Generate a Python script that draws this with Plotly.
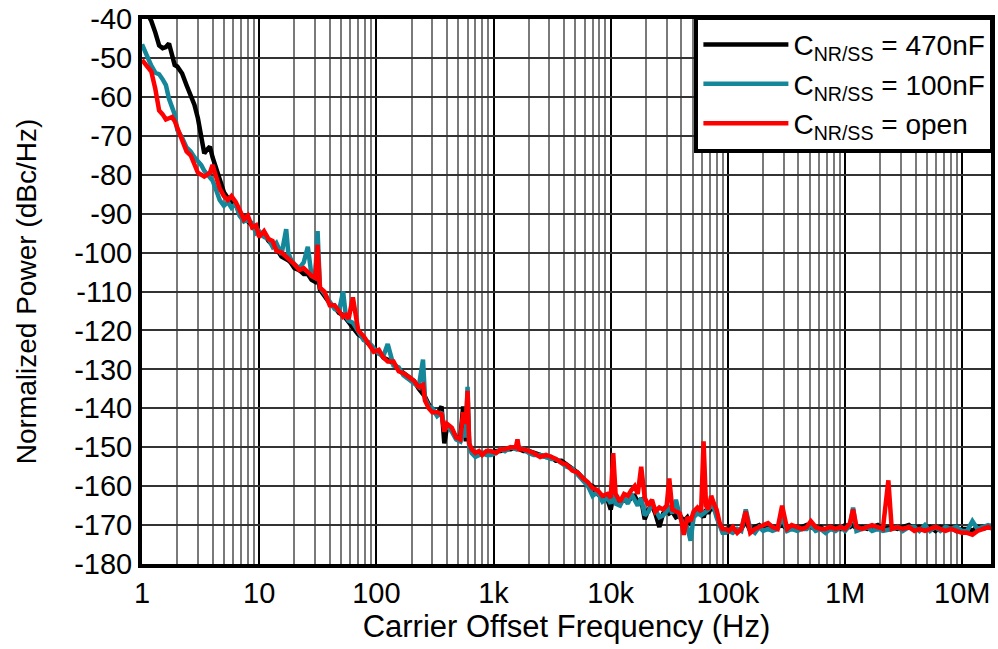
import plotly.graph_objects as go

# Carrier offset frequency (Hz), shared by all three series
FREQ = [
    1, 1.1, 1.2, 1.3, 1.4, 1.5, 1.6, 1.7, 1.8, 1.9,
    2.0, 2.2, 2.4, 2.6, 2.8, 3.0, 3.2, 3.4, 3.6, 3.8,
    4.0, 4.3, 4.6, 5.0, 5.4, 5.8, 6.3, 6.8, 7.4, 8.0,
    8.7, 9.4, 10, 11, 12, 13, 14, 15.5, 17, 17.7,
    18.5, 20, 22, 24, 26, 28, 30, 31.5, 33, 36,
    40, 44, 48, 52, 55, 58, 63, 70, 78, 86,
    95, 105, 115, 125, 140, 155, 170, 190, 210, 230,
    250, 260, 280, 300, 330, 360, 380, 400, 440, 480,
    520, 550, 580, 600, 620, 650, 700, 750, 800, 870,
    950, 1050, 1150, 1250, 1400, 1550, 1600, 1650, 1800, 2000,
    2200, 2500, 2800, 3100, 3400, 3800, 4200, 4700, 5200, 5800,
    6400, 7000, 7700, 8500, 9400, 10000, 10500, 11000, 12000, 13000,
    14000, 15000, 16000, 17000, 18200, 19500, 21000, 22500, 24000, 26000,
    28000, 30000, 31600, 33500, 36000, 39000, 42000, 45000, 48000, 51000,
    55000, 59000, 62000, 65000, 68000, 72000, 76000, 80000, 85000, 90000,
    96000, 102000, 110000, 120000, 130000, 142000, 155000, 170000, 185000, 200000,
    220000, 240000, 265000, 290000, 320000, 350000, 390000, 430000, 470000, 510000,
    560000, 620000, 680000, 750000, 830000, 920000, 1.0e6, 1.1e6, 1.17e6, 1.25e6,
    1.4e6, 1.55e6, 1.7e6, 1.9e6, 2.1e6, 2.34e6, 2.5e6, 2.8e6, 3.1e6, 3.5e6,
    3.9e6, 4.3e6, 4.8e6, 5.3e6, 5.9e6, 6.5e6, 7.2e6, 8e6, 8.9e6, 9.9e6,
    11e6, 12.2e6, 13.5e6, 15e6, 16.6e6, 18.4e6, 20e6,
]

# Normalized power (dBc/Hz), C_NR/SS = 470nF
P_470NF = [
    -36, -38.5, -40.5, -43.5, -46.8, -47.5, -47.2, -46.3, -49.5, -51.8,
    -52.2, -54, -57, -59.5, -62, -65.5, -70.5, -74.5, -73.5, -72.8,
    -75.5, -78.5, -81, -84.5, -86, -87, -87.5, -90, -91, -92,
    -93, -94.5, -95.5, -95, -97, -98, -99, -101, -101.5, -102,
    -102.5, -104, -104.5, -105.5, -105.5, -107, -107.5, -106, -109.5, -111,
    -113, -114, -115.5, -116, -117, -118, -119, -121, -122, -123.5,
    -125, -125.5, -127, -127.5, -128.5, -130, -131, -132, -133, -135,
    -136.5, -137, -139, -140.5, -141.5, -139.5, -149, -145, -145.5, -147.5,
    -148, -139.5, -148.5, -140, -149.5, -151, -151.5, -152, -151.5, -151.5,
    -151.5, -151, -151, -150.5, -150.5, -150, -150, -150.5, -151, -151,
    -151.5, -152, -152.5, -152.5, -153.5, -153.5, -154.5, -155.5, -156.5, -158,
    -159.5, -160, -162, -163, -163.5, -166, -162.5, -163, -164, -163.5,
    -164, -163, -162.5, -164, -163.5, -168.5, -166, -165, -167, -170.5,
    -167, -166, -167, -166.5, -168, -167.5, -169, -168, -170, -167,
    -166.5, -167, -168, -166, -167, -165.5, -166, -167, -170, -171,
    -171.5, -170.5, -171, -171.5, -171, -169, -171.5, -170.5, -170, -171,
    -170.5, -171, -170.5, -170, -171, -170.5, -171, -170.5, -170, -170.5,
    -171, -170.5, -171.5, -171, -170.5, -171, -170, -170.5, -170, -171,
    -170.5, -171, -170.5, -170, -171, -170.5, -170.5, -171, -170.5, -170,
    -171, -170.5, -171, -170.5, -171.5, -170.5, -171, -170.5, -171.5, -171,
    -171, -171.5, -170.5, -171, -170.5, -170, -170.5,
]

# Normalized power (dBc/Hz), C_NR/SS = 100nF
P_100NF = [
    -46.5, -49.5, -52, -53.8, -54.2, -55.5, -57, -60.5, -62.5, -64.5,
    -68.5, -70.5, -73, -74, -75.5, -76.5, -77.5, -79, -80, -81,
    -81.5, -84, -86.5, -88, -87, -88.5, -87.5, -90.5, -92, -91.5,
    -92.5, -95, -94.5, -96, -96.5, -98.5, -97.5, -100.5, -94, -100,
    -101.5, -103, -104, -102.5, -98.5, -106, -106.5, -94.5, -109, -110.5,
    -112.5, -114.5, -115, -110, -116.5, -117.5, -118, -120.5, -122.5, -123,
    -124.5, -126, -126.5, -123.5, -129, -129.5, -131.5, -132.5, -133.5, -134.5,
    -127.5, -137.5, -139.5, -140, -142, -141, -145, -144.5, -146, -148,
    -148.5, -145, -147.5, -134.5, -150, -151.5, -152.5, -152, -151.5, -152,
    -152, -151.5, -150.5, -151, -150, -150.5, -149.5, -150, -150.5, -151.5,
    -152, -152, -152.5, -153, -153, -154, -155, -155.5, -157, -158.5,
    -160, -162.5, -161.5, -164, -163, -164.5, -161, -164.5, -165, -163,
    -164.5, -162, -163.5, -165, -163, -167.5, -166.5, -164.5, -166, -168,
    -167.5, -166.5, -165, -167, -163.5, -168, -170, -170.5, -174, -168,
    -167, -167.5, -167, -166.5, -166, -165, -165.5, -168, -170.5, -172,
    -172, -171.5, -172, -171, -171.5, -166, -171, -172, -170.5, -171.5,
    -171, -171.5, -171, -168, -171.5, -171, -171.5, -171, -171, -170,
    -171.5, -171, -172, -171, -171.5, -170.5, -171.5, -170, -165.5, -171.5,
    -171, -170.5, -171.5, -171, -171.5, -171, -171, -170.5, -171.5, -170.5,
    -170.5, -171.5, -170, -171.5, -170.5, -171.5, -170.5, -171, -170.5, -171.5,
    -171.5, -169, -171, -170.5, -170, -170.5, -170,
]

# Normalized power (dBc/Hz), C_NR/SS = open
P_OPEN = [
    -50.5, -52, -53.5, -58, -63.5, -64.5, -65.8, -65.5, -65.2, -66.2,
    -68, -71.5, -74, -75, -77, -79.5, -80, -80.5, -80, -79.5,
    -77.5, -80.5, -83.5, -85.5, -86.5, -85.5, -87, -89, -91.5, -90.5,
    -93.5, -93, -96, -94.5, -96.5, -97, -99.5, -100, -101, -101.5,
    -102, -103, -104.5, -104, -105, -106, -106.5, -98, -109, -110,
    -113.5, -113.5, -115, -116.5, -116, -117, -111.5, -120, -121.5, -123.5,
    -125.5, -125, -127, -128, -128, -130.5, -131, -132, -133, -134.5,
    -134, -138, -140, -141, -141, -141.5, -146, -144, -145, -147.5,
    -148, -141, -144, -135.5, -149, -150.5, -151.5, -151, -152, -151,
    -151, -151.5, -150.5, -150.5, -150, -150, -148, -150.5, -150.5, -151,
    -151.5, -152.5, -152, -152.5, -153, -154, -154.5, -156, -156.5, -158,
    -159, -160.5, -161, -162.5, -162, -163, -151.5, -162, -164, -162,
    -162.5, -161, -160, -162, -155, -163, -165, -163.5, -166.5, -165.5,
    -166, -165, -158, -166, -166.5, -167, -172.5, -168, -169, -166.5,
    -165.5, -166.5, -148.5, -165, -166, -162.5, -164.5, -166, -169.5, -171,
    -171, -171.5, -170.5, -172, -171, -166.5, -172, -171, -170.5, -170,
    -169.5, -170.5, -171, -165, -171, -170, -170.5, -171, -170.5, -169,
    -170.5, -171, -171, -170.5, -171, -170.5, -171, -169.5, -166, -170.5,
    -171, -170.5, -170, -170.5, -171, -158.5, -171, -170.5, -171, -170.5,
    -171.5, -171, -171.5, -171, -170.5, -171, -171.5, -171, -171.5, -172,
    -172, -172.5, -171.5, -171, -170.5, -171, -170.5,
]

SERIES_NAMES = [
    "C<sub>NR/SS</sub> = 470nF",
    "C<sub>NR/SS</sub> = 100nF",
    "C<sub>NR/SS</sub> = open",
]
SERIES_COLORS = ["#000000", "#14879a", "#ff0000"]

X_TICKVALS = [1, 10, 100, 1e3, 1e4, 1e5, 1e6, 1e7]
X_TICKTEXT = ["1", "10", "100", "1k", "10k", "100k", "1M", "10M"]
Y_TICKVALS = list(range(-180, -39, 10))
Y_TICKTEXT = ["-180", "-170", "-160", "-150", "-140", "-130", "-120", "-110",
              "-100", "-90", "-80", "-70", "-60", "-50", "-40"]

FONT = "Liberation Sans, Arial, sans-serif"

fig = go.Figure()
for name, color, vals in zip(SERIES_NAMES, SERIES_COLORS, [P_470NF, P_100NF, P_OPEN]):
    fig.add_trace(go.Scatter(
        x=FREQ, y=vals, mode="lines", name=name,
        line=dict(color=color, width=4.5),
    ))

fig.update_layout(
    width=998, height=649,
    margin=dict(l=142, r=4, t=19, b=85),
    paper_bgcolor="white", plot_bgcolor="white",
    font=dict(family=FONT, color="black"),
    showlegend=True,
    legend=dict(
        x=1.004, y=1.006, xanchor="right", yanchor="top",
        bgcolor="white", bordercolor="black", borderwidth=4,
        font=dict(size=28, family=FONT, color="black"),
        itemwidth=85, tracegroupgap=0,
    ),
)

fig.update_xaxes(
    type="log", range=[0, 7.245],
    tickvals=X_TICKVALS, ticktext=X_TICKTEXT,
    tickfont=dict(size=29, family=FONT),
    showgrid=True, gridcolor="#000000", gridwidth=1.6,
    minor=dict(dtick="D1", showgrid=True, gridcolor="#7a7a7a", gridwidth=1.6),
    showline=True, linecolor="black", linewidth=4, mirror=True,
    ticks="", zeroline=False,
    title=dict(text="Carrier Offset Frequency (Hz)", font=dict(size=31, family=FONT), standoff=4),
)
fig.update_yaxes(
    range=[-180, -40],
    tickvals=Y_TICKVALS, ticktext=Y_TICKTEXT,
    tickfont=dict(size=29, family=FONT),
    showgrid=True, gridcolor="#333333", gridwidth=1.5,
    showline=True, linecolor="black", linewidth=4, mirror=True,
    ticks="", zeroline=False,
    title=dict(text="Normalized Power (dBc/Hz)", font=dict(size=28, family=FONT), standoff=30),
)

fig.write_html("out.html")
